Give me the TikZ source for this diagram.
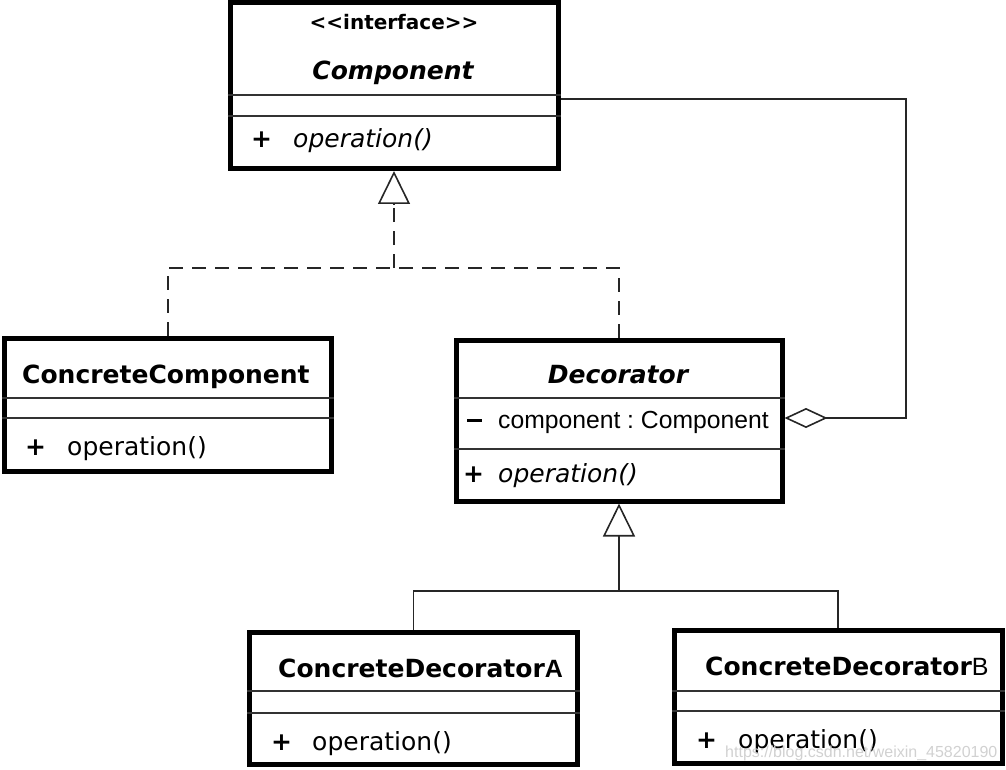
\documentclass[tikz,border=0pt]{standalone}
\usepackage{fontspec}
\setmainfont{DejaVu Sans}
\newfontfamily\lib{Liberation Sans}
\usetikzlibrary{arrows.meta}
\frenchspacing
\begin{document}
\begin{tikzpicture}[x=1pt,y=-1pt,
  umlbox/.style={draw, line width=5pt, rectangle, inner sep=0pt},
  sepline/.style={line width=1.6pt, draw=black!80},
  txt/.style={inner sep=0pt, anchor=base west, font=\fontsize{25}{30}\selectfont},
  ctxt/.style={inner sep=0pt, anchor=base, font=\fontsize{25}{30}\selectfont},
  conn/.style={line width=1.6pt, draw=black!85, line join=miter},
  dashconn/.style={conn, dash pattern=on 14pt off 9pt},
  gen/.style={conn, -{Triangle[open, length=33pt, width=32pt, line width=1.6pt]}},
  agg/.style={conn, -{Diamond[open, length=43pt, width=20pt, line width=1.6pt]}}
]
\useasboundingbox (0,0) rectangle (1006,770);

% boxes
\node[umlbox, minimum width=328pt, minimum height=165.5pt] (comp) at (394,85.75) {};
\node[umlbox, minimum width=326.5pt, minimum height=133pt] (cc) at (167.75,404.5) {};
\node[umlbox, minimum width=326pt, minimum height=161pt] (dec) at (619,420.5) {};
\node[umlbox, minimum width=328pt, minimum height=132pt] (cda) at (413.5,698.5) {};
\node[umlbox, minimum width=327.5pt, minimum height=132.5pt] (cdb) at (838.25,696.75) {};

% compartment lines
\draw[sepline] (comp.west |- 0,95) -- (comp.east |- 0,95);
\draw[sepline] (comp.west |- 0,116) -- (comp.east |- 0,116);
\draw[sepline] (cc.west |- 0,398) -- (cc.east |- 0,398);
\draw[sepline] (cc.west |- 0,418) -- (cc.east |- 0,418);
\draw[sepline] (dec.west |- 0,398) -- (dec.east |- 0,398);
\draw[sepline] (dec.west |- 0,449) -- (dec.east |- 0,449);
\draw[sepline] (cda.west |- 0,691) -- (cda.east |- 0,691);
\draw[sepline] (cda.west |- 0,713) -- (cda.east |- 0,713);
\draw[sepline] (cdb.west |- 0,691) -- (cdb.east |- 0,691);
\draw[sepline] (cdb.west |- 0,711) -- (cdb.east |- 0,711);

% texts: Component
\node[inner sep=0pt, anchor=base, font=\fontsize{20}{24}\selectfont\bfseries] (tint) at (394,30) {<{}<interface>{}>};
\node[ctxt, font=\fontsize{25}{30}\selectfont\bfseries\itshape] (tcomp) at (393,80) {Component};
\node[txt, font=\fontsize{25}{30}\selectfont\bfseries] (pcomp) at (251,148) {+};
\node[txt, font=\fontsize{25}{30}\selectfont\itshape] (ocomp) at (293,148) {operation()};

% ConcreteComponent
\node[txt, font=\fontsize{25}{30}\selectfont\bfseries] (tcc) at (22,383) {ConcreteComponent};
\node[txt, font=\fontsize{25}{30}\selectfont\bfseries] (pcc) at (25,455) {+};
\node[txt] (occ) at (67,455) {operation()};

% Decorator
\node[ctxt, font=\fontsize{25}{30}\selectfont\bfseries\itshape] (tdec) at (618,383) {Decorator};
\node[txt] (mdec) at (467,428) {\rule[6.5pt]{15pt}{2.6pt}};
\node[txt, font=\fontsize{24.7}{30}\selectfont\lib] (adec) at (498,428) {component : Component};
\node[txt, font=\fontsize{25}{30}\selectfont\bfseries] (pdec) at (463,482) {+};
\node[txt, font=\fontsize{25}{30}\selectfont\itshape] (odec) at (498,482) {operation()};

% ConcreteDecoratorA
\node[txt, font=\fontsize{25}{30}\selectfont\bfseries] (tcda) at (278,677) {ConcreteDecorator{\lib A}};
\node[txt, font=\fontsize{25}{30}\selectfont\bfseries] (pcda) at (271,750) {+};
\node[txt] (ocda) at (312,750) {operation()};

% ConcreteDecoratorB
\node[txt, font=\fontsize{25}{30}\selectfont\bfseries] (tcdb) at (705,675) {ConcreteDecorator{\lib\mdseries B}};
\node[txt, font=\fontsize{25}{30}\selectfont\bfseries] (pcdb) at (696,748) {+};
\node[txt] (ocdb) at (738,748) {operation()};

% realization: dashed lines + open triangle
\coordinate (j1) at (394,268);
\coordinate (tb1) at (394,204);
\draw[dashconn] (cc.north) -- (cc.north |- j1) -- (dec.north |- j1) -- (dec.north);
\draw[dashconn] (j1) -- (tb1);
\draw[gen] (tb1) -- (comp.south);

% generalization: solid tree + open triangle
\coordinate (j2) at (619,591);
\coordinate (tb2) at (619,538);
\draw[conn] (cda.north) -- (cda.north |- j2) -- (cdb.north |- j2) -- (cdb.north);
\draw[conn] (j2) -- (tb2);
\draw[gen] (tb2) -- (dec.south);

% aggregation
\coordinate (c1) at (906,99);
\coordinate (c2) at (906,418);
\draw[agg] (comp.east |- c1) -- (c1) -- (c2) -- (dec.east |- c2);

% watermark
\node[inner sep=0pt, anchor=base west, text=black!18, font=\fontsize{16}{18}\selectfont\lib] (wm) at (725,757) {https://blog.csdn.net/weixin\_45820190};
\end{tikzpicture}
\end{document}
